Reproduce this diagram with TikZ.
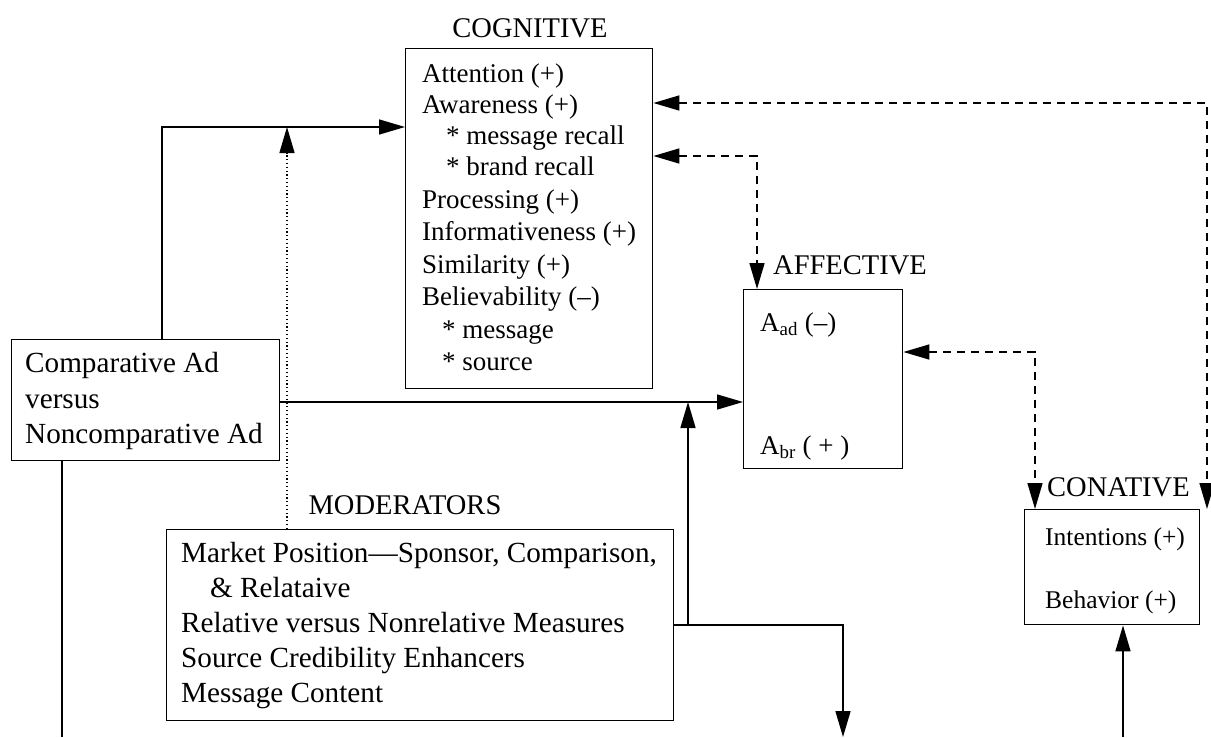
\documentclass[tikz,border=0pt]{standalone}
\usepackage{fontspec}
\setmainfont{Liberation Serif}
\usetikzlibrary{arrows.meta}
\begin{document}
\begin{tikzpicture}[x=1pt,y=-1pt,
  box/.style={draw,line width=1.4pt,inner sep=0pt,anchor=north west},
  txt/.style={anchor=base west,inner sep=0pt,font=\fontsize{29.2}{34}\selectfont},
  ctxt/.style={anchor=base west,inner sep=0pt,font=\fontsize{27}{32}\selectfont},
  stxt/.style={anchor=base west,inner sep=0pt,font=\fontsize{25.5}{30}\selectfont},
  lbl/.style={anchor=base,inner sep=0pt,font=\fontsize{28.5}{34}\selectfont},
  llbl/.style={anchor=base west,inner sep=0pt,font=\fontsize{28.5}{34}\selectfont},
  conn/.style={line width=1.5pt},
  tip/.style={-{Triangle[length=26pt,width=15pt]}},
  tipboth/.style={{Triangle[length=26pt,width=15pt]}-{Triangle[length=26pt,width=15pt]}},
  dsh/.style={dash pattern=on 8pt off 6pt},
  dtt/.style={line width=1.4pt,dash pattern=on 1.2pt off 2.6pt}
]
\useasboundingbox (0,0) rectangle (1211,737);

% boxes
\node[box,minimum width=247pt,minimum height=340pt] (cog) at (405,48) {};
\node[box,minimum width=268pt,minimum height=121pt] (comp) at (11,339) {};
\node[box,minimum width=507pt,minimum height=191pt] (mod) at (166,529) {};
\node[box,minimum width=159pt,minimum height=179pt] (aff) at (743,289) {};
\node[box,minimum width=175pt,minimum height=115pt] (con) at (1024,509) {};

% labels
\node[lbl] (lcog) at (530,37) {COGNITIVE};
\node[lbl] (lmod) at (405,514) {MODERATORS};
\node[llbl] (laff) at (773,274) {AFFECTIVE};
\node[llbl] (lcon) at (1047,496) {CONATIVE};

% cognitive text
\node[ctxt] (c1) at (422,82) {Attention (+)};
\node[ctxt] (c2) at (422,113) {Awareness (+)};
\node[ctxt] (c3) at (446,144) {* message recall};
\node[ctxt] (c4) at (446,175) {* brand recall};
\node[ctxt] (c5) at (422,208) {Processing (+)};
\node[ctxt] (c6) at (422,240) {Informativeness (+)};
\node[ctxt] (c7) at (422,273) {Similarity (+)};
\node[ctxt] (c8) at (422,305) {Believability (–)};
\node[ctxt] (c9) at (442,338) {* message};
\node[ctxt] (c10) at (442,370) {* source};

% comparative text
\node[txt] (p1) at (25,372) {Comparative Ad};
\node[txt] (p2) at (25,408) {versus};
\node[txt] (p3) at (25,443) {Noncomparative Ad};

% moderators text
\node[txt] (m1) at (181,562) {Market Position—Sponsor, Comparison,};
\node[txt] (m2) at (210,597) {\& Relataive};
\node[txt] (m3) at (181,632) {Relative versus Nonrelative Measures};
\node[txt] (m4) at (181,667) {Source Credibility Enhancers};
\node[txt] (m5) at (181,702) {Message Content};

% affective text
\node[ctxt] (a1) at (760,331) {A\textsubscript{ad} (–)};
\node[ctxt] (a2) at (760,454) {A\textsubscript{br} ( + )};

% conative text
\node[stxt] (n1) at (1045,545) {Intentions (+)};
\node[stxt] (n2) at (1045,608) {Behavior (+)};

% helper coordinates
\coordinate (k0) at (162,127);
\coordinate (d0) at (287,127);
\coordinate (h0) at (500,402);
\coordinate (j0) at (688,625);
\coordinate (dn) at (843,737);
\coordinate (b1) at (62,737);
\coordinate (b2) at (1123,737);
\coordinate (e1) at (757,156);
\coordinate (e2) at (1035,352);
\coordinate (e3) at (1207,103);

% solid connectors
\draw[conn,tip] (comp.north -| k0) -- (k0) -- (cog.west |- k0);
\draw[conn,tip] (comp.east |- h0) -- (aff.west |- h0);
\draw[conn,tip] (j0) -- (j0 |- h0);
\draw[conn,tip] (mod.east |- j0) -| (dn);
\draw[conn] (comp.south -| b1) -- (b1);
\draw[conn,tip] (b2) -- (con.south -| b2);

% dotted moderator line
\draw[dtt,tip] (mod.north -| d0) -- (d0);

% dashed feedback connectors
\draw[conn,dsh,tipboth] (cog.east |- e1) -- (e1) -- (e1 |- aff.north);
\draw[conn,dsh,tipboth] (aff.east |- e2) -- (e2) -- (e2 |- con.north);
\draw[conn,dsh,tipboth] (cog.east |- e3) -- (e3) -- (e3 |- con.north);
\end{tikzpicture}
\end{document}
